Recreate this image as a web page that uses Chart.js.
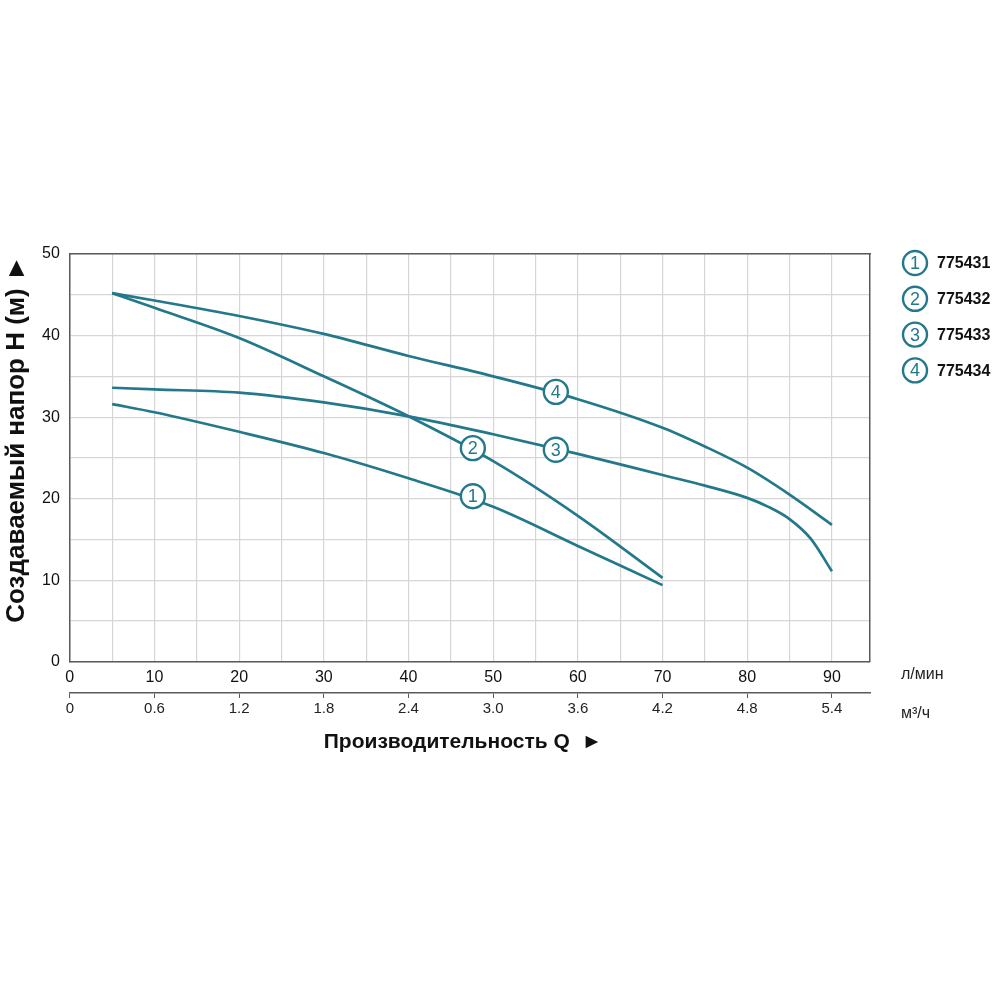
<!DOCTYPE html>
<html>
<head>
<meta charset="utf-8">
<script src="https://cdn.jsdelivr.net/npm/chart.js@4/dist/chart.umd.min.js"></script>
<style>
  html, body { margin: 0; padding: 0; background: #fff; }
  #wrap { width: 1000px; height: 1000px; position: relative; }
</style>
</head>
<body>
<div id="wrap"><canvas id="chart" width="1000" height="1000"></canvas></div>
<script>
// ── data (flow in l/min, head in m) ──────────────────────────────────────────
const models = ['775431', '775432', '775433', '775434'];

const flow1 = [5, 10, 20, 30, 40, 50, 60, 70];
const head1 = [31.6, 30.6, 28.2, 25.6, 22.5, 19.0, 14.2, 9.4];

const flow2 = [5, 10, 20, 30, 40, 50, 60, 70];
const head2 = [45.2, 43.4, 39.7, 35.0, 30.1, 24.6, 17.9, 10.3];

const flow3 = [5, 10, 20, 30, 40, 50, 60, 70, 75, 80, 82.5, 85, 87.5, 90];
const head3 = [33.6, 33.4, 33.0, 31.8, 30.1, 27.9, 25.5, 22.9, 21.6, 20.1, 19.0, 17.5, 15.1, 11.1];

const flow4 = [5, 10, 20, 30, 40, 50, 60, 70, 75, 80, 85, 90];
const head4 = [45.2, 44.3, 42.4, 40.2, 37.5, 35.0, 32.2, 28.7, 26.4, 23.8, 20.5, 16.8];

// circled curve markers: position on each curve
const markerFlow = [47.6, 47.6, 57.4, 57.4];
const markerHead = [20.3, 26.2, 26.0, 33.1];

const C = {
  line: '#23798b',
  grid: '#d6d6d6',
  axis: '#5a5a5a',
  text: '#111',
};
const FONT = 'Liberation Sans, Arial, sans-serif';

const series = [[flow1, head1], [flow2, head2], [flow3, head3], [flow4, head4]];

const datasets = series.map(([xs, ys], i) => ({
  label: models[i],
  data: xs.map((x, j) => ({ x, y: ys[j] })),
  borderColor: C.line,
  borderWidth: 2.7,
  pointRadius: 0,
  fill: false,
  cubicInterpolationMode: 'monotone',
}));

function circledNumber(ctx, n, cx, cy) {
  ctx.beginPath();
  ctx.arc(cx, cy, 12, 0, Math.PI * 2);
  ctx.fillStyle = '#fff';
  ctx.fill();
  ctx.lineWidth = 2.4;
  ctx.strokeStyle = C.line;
  ctx.stroke();
  ctx.fillStyle = C.line;
  ctx.font = '18px ' + FONT;
  ctx.textAlign = 'center';
  ctx.textBaseline = 'middle';
  ctx.fillText(String(n), cx, cy + 1);
}

// ── overlay plugin: curve markers, legend, units, axis titles ────────────────
const overlay = {
  id: 'overlay',
  afterDatasetsDraw(chart) {
    const { ctx, scales: { x, y } } = chart;
    ctx.save();

    // circled numbers on curves
    markerFlow.forEach((f, i) => {
      circledNumber(ctx, i + 1, x.getPixelForValue(f), y.getPixelForValue(markerHead[i]));
    });

    // legend on the right
    models.forEach((m, i) => {
      const cy = 263 + i * 35.8;
      circledNumber(ctx, i + 1, 915, cy);
      ctx.fillStyle = C.text;
      ctx.font = 'bold 16px ' + FONT;
      ctx.textAlign = 'left';
      ctx.fillText(m, 937, cy + 1);
    });

    // unit labels
    ctx.fillStyle = '#222';
    ctx.font = '16px ' + FONT;
    ctx.textAlign = 'left';
    ctx.textBaseline = 'middle';
    ctx.fillText('л/мин', 901, 675);
    ctx.fillText('м³/ч', 901, 714);

    // axis titles
    ctx.fillStyle = C.text;
    ctx.font = 'bold 21px ' + FONT;
    ctx.textAlign = 'center';
    ctx.fillText('Производительность Q  ►', 463, 742);

    ctx.translate(17, 439);
    ctx.rotate(-Math.PI / 2);
    ctx.font = 'bold 26px ' + FONT;
    ctx.fillText('Создаваемый напор H (м) ►', 0, 0);
    ctx.restore();
  },
};

new Chart(document.getElementById('chart'), {
  type: 'line',
  data: { datasets },
  plugins: [overlay],
  options: {
    responsive: false,
    animation: false,
    layout: { padding: { left: 32, right: 122, top: 246, bottom: 280 } },
    plugins: { legend: { display: false }, tooltip: { enabled: false } },
    scales: {
      x: {
        type: 'linear',
        position: 'bottom',
        min: 0, max: 94.5,
        border: { display: true, color: C.axis, width: 1.5 },
        grid: { color: C.grid, lineWidth: 1.2, drawTicks: false },
        ticks: {
          stepSize: 5, includeBounds: false, padding: 6, maxRotation: 0, autoSkip: false,
          color: C.text, font: { family: FONT, size: 16 },
          callback: v => (v % 10 === 0 ? String(v) : ''),
        },
      },
      x2: {
        type: 'linear',
        position: 'bottom',
        min: 0, max: 94.5 * 0.06,
        border: { display: true, color: C.axis, width: 1.5 },
        grid: { drawOnChartArea: false, color: C.axis, tickLength: 5, lineWidth: 1 },
        ticks: {
          stepSize: 0.6, includeBounds: false, padding: 2, maxRotation: 0, autoSkip: false,
          color: '#222', font: { family: FONT, size: 15 },
          callback: v => (Math.abs(v) < 1e-9 ? '0' : v.toFixed(1)),
        },
      },
      y: {
        min: 0, max: 50,
        border: { display: true, color: C.axis, width: 1.5 },
        grid: { color: C.grid, lineWidth: 1.2, drawTicks: false },
        ticks: {
          stepSize: 5, padding: 10,
          color: C.text, font: { family: FONT, size: 16 },
          callback: v => (v % 10 === 0 ? String(v) : ''),
        },
      },
      yRight: {
        position: 'right',
        min: 0, max: 50,
        border: { display: true, color: C.axis, width: 1.5 },
        grid: { display: false },
        ticks: { display: false },
      },
      xTop: {
        type: 'linear',
        position: 'top',
        min: 0, max: 94.5,
        border: { display: true, color: C.axis, width: 1.5 },
        grid: { display: false },
        ticks: { display: false },
      },
    },
  },
});
</script>
</body>
</html>
